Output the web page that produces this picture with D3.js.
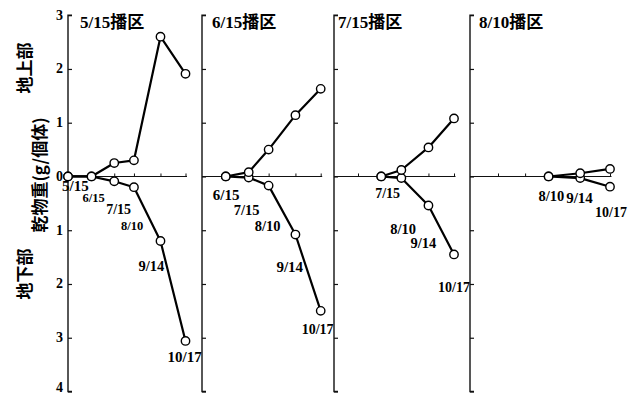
<!DOCTYPE html>
<html>
<head>
<meta charset="utf-8">
<script src="https://cdn.jsdelivr.net/npm/d3@7"></script>
<style>
  html, body { margin: 0; padding: 0; background: #fff; }
  svg { display: block; }
</style>
</head>
<body>
<svg id="chart" width="634" height="396"></svg>
<script>
// Sowing plots and their sampling dates
const panelTitles = ["5/15播区", "6/15播区", "7/15播区", "8/10播区"];
const sampleDates = ["5/15", "6/15", "7/15", "8/10", "9/14", "10/17"];

// Dry weight (g/plant) from the sowing date onward
const shootWeight = [
  [0, 0, 0.25, 0.30, 2.60, 1.91],
  [0, 0.08, 0.50, 1.14, 1.63],
  [0, 0.12, 0.54, 1.08],
  [0, 0.06, 0.14]
];
const rootWeight = [
  [0, 0, 0.09, 0.20, 1.20, 3.06],
  [0, 0.02, 0.17, 1.08, 2.50],
  [0, 0.03, 0.54, 1.45],
  [0, 0.03, 0.19]
];

// Y ticks: shoots upward, roots downward (shown as magnitudes)
const yTickValues = [3, 2, 1, 0, -1, -2, -3, -4];
const yTickLabels = ["3", "2", "1", "0", "1", "2", "3", "4"];

// Layout
const panelX = [[68, 185.5], [202, 320.7], [334, 454], [470, 610]];
const titleDx = [12, 10, 4, 9];
// date label placement relative to the root point: [dx, dy, font size]
const labelLayout = [
  [[-6, 15, 15], [-9, 26, 12.5], [-8, 33, 14], [-13, 43, 12.5], [-22, 30, 14.5], [-18, 21, 15]],
  [[-13, 24, 15], [-15, 37, 14.5], [-14, 45, 14.5], [-19, 37, 15], [-19, 23, 14]],
  [[-6, 22, 14], [-11, 56, 14.5], [-18, 42, 14.5], [-16, 38, 14]],
  [[-10, 25, 14.5], [-14, 25, 15], [-15, 30, 14]]
];

const svg = d3.select("#chart");
const parseDate = d => { const [m, dd] = d.split("/").map(Number); return new Date(1990, m - 1, dd); };

const y = d3.scaleLinear().domain([-4, 3]).range([391.5, 15.2]);
const serif = "'Liberation Serif', 'Times New Roman', serif";
const cjkSans = "'Noto Sans CJK JP', 'Noto Sans CJK SC', sans-serif";

// Left axis titles
const yTitles = [
  { text: "地上部", x: 23, y: 68 },
  { text: "乾物重(g/個体)", x: 38, y: 175 },
  { text: "地下部", x: 23, y: 274 }
];
svg.selectAll("text.ytitle").data(yTitles).join("text")
  .attr("class", "ytitle")
  .attr("transform", d => `translate(${d.x},${d.y}) rotate(-90)`)
  .attr("text-anchor", "middle")
  .attr("dominant-baseline", "central")
  .style("font-family", cjkSans)
  .style("font-weight", "bold")
  .style("font-size", "17px")
  .text(d => d.text);

panelTitles.forEach((title, p) => {
  const dates = sampleDates.slice(p);
  const x = d3.scaleTime()
    .domain([parseDate(sampleDates[0]), parseDate(sampleDates[sampleDates.length - 1])])
    .range(panelX[p]);
  const g = svg.append("g");

  // vertical axis with inward ticks
  const yAxis = d3.axisRight(y).tickValues(yTickValues).tickSize(4).tickFormat("");
  const ya = g.append("g").attr("transform", `translate(${panelX[p][0]},0)`).call(yAxis);
  ya.select(".domain").attr("d", `M4,${y(3)}H0V${y(-4)}H4`).attr("stroke", "#111").attr("stroke-width", 1.4);
  ya.selectAll(".tick line").attr("stroke", "#111").attr("stroke-width", 1.2);

  if (p === 0) {
    g.selectAll("text.ytick").data(yTickValues).join("text")
      .attr("class", "ytick")
      .attr("x", panelX[p][0] - 5)
      .attr("y", d => Math.min(y(d), 387))
      .attr("text-anchor", "end")
      .attr("dominant-baseline", "central")
      .style("font-family", serif)
      .style("font-weight", "bold")
      .style("font-size", "14px")
      .text((d, i) => yTickLabels[i]);
  }

  // zero line with upward date ticks
  const xAxis = d3.axisTop(x)
    .tickValues(sampleDates.slice(1).map(parseDate))
    .tickSize(3).tickSizeOuter(0).tickFormat("");
  const xa = g.append("g").attr("transform", `translate(0,${y(0)})`).call(xAxis);
  xa.select(".domain").attr("d", `M${panelX[p][0]},0H${panelX[p][1] + 1.5}`)
    .attr("stroke", "#111").attr("stroke-width", 1.1);
  xa.selectAll(".tick line").attr("stroke", "#111").attr("stroke-width", 1);

  // panel title
  g.append("text")
    .attr("x", panelX[p][0] + titleDx[p])
    .attr("y", 28)
    .style("font-family", `${serif.split(",")[0]}, ${cjkSans}`)
    .style("font-weight", "bold")
    .style("font-size", "17px")
    .text(title);

  const shoots = dates.map((d, i) => ({ date: parseDate(d), v: shootWeight[p][i] }));
  const roots = dates.map((d, i) => ({ date: parseDate(d), v: -rootWeight[p][i], label: d, i }));
  const line = d3.line().x(d => x(d.date)).y(d => y(d.v));

  [roots, shoots].forEach(series => {
    g.append("path").datum(series)
      .attr("d", line)
      .attr("fill", "none")
      .attr("stroke", "#000")
      .attr("stroke-width", 2.2)
      .attr("stroke-linejoin", "round");
  });
  [roots, shoots].forEach(series => {
    g.selectAll(null).data(series).join("circle")
      .attr("cx", d => x(d.date))
      .attr("cy", d => y(d.v))
      .attr("r", 4.2)
      .attr("fill", "#fff")
      .attr("stroke", "#000")
      .attr("stroke-width", 1.4);
  });

  // date labels beside the root points
  g.selectAll("text.date").data(roots).join("text")
    .attr("class", "date")
    .attr("x", d => x(d.date) + labelLayout[p][d.i][0])
    .attr("y", d => y(d.v) + labelLayout[p][d.i][1])
    .style("font-family", serif)
    .style("font-size", d => labelLayout[p][d.i][2] + "px")
    .style("font-weight", "bold")
    .text(d => d.label);
});
</script>
</body>
</html>
